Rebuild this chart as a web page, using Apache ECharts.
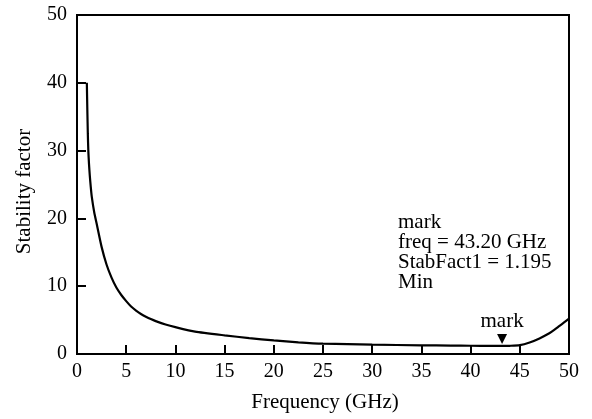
<!DOCTYPE html>
<html>
<head>
<meta charset="utf-8">
<script src="https://cdn.jsdelivr.net/npm/echarts@6/dist/echarts.min.js"></script>
<style>
  html, body { margin: 0; padding: 0; background: #fff; }
  #main { width: 592px; height: 419px; }
</style>
</head>
<body>
<div id="main"></div>
<script>
// frequency (GHz) and stability factor
var freq = [1.0, 1.05, 1.1, 1.15, 1.22, 1.3, 1.4, 1.5, 1.75, 2.0, 2.5, 3.0, 3.5, 4.0, 4.5, 5.0,
            5.5, 6, 6.5, 7, 7.5, 8, 9, 10, 12, 15, 17.5, 20, 22.5, 25, 30, 35, 38, 40,
            42, 43.2, 44, 45, 46, 47, 48, 48.5, 49, 49.5, 50];
var stab = [40, 36, 32.5, 30, 28, 26.3, 24.6, 23.2, 20.9, 19.2, 15.8, 13.2, 11.3, 9.8, 8.7, 7.8,
            7.0, 6.4, 5.9, 5.5, 5.15, 4.85, 4.35, 3.96, 3.3, 2.75, 2.35, 2.0, 1.72, 1.52, 1.38, 1.28, 1.24, 1.22,
            1.2, 1.195, 1.21, 1.3, 1.7, 2.3, 3.05, 3.55, 4.1, 4.65, 5.2];
var markFreq = 43.2;
var markVal = 1.195;
var noteLines = ['mark', 'freq = 43.20 GHz', 'StabFact1 = 1.195', 'Min'];

var font = '"Liberation Serif", "Times New Roman", serif';
var myChart = echarts.init(document.getElementById('main'));

var option = {
    animation: false,
    grid: {
        left: 77, right: 23, top: 15, bottom: 65,
        show: true, borderColor: '#000', borderWidth: 2, backgroundColor: 'transparent'
    },
    xAxis: {
        type: 'value', min: 0, max: 50, interval: 5,
        name: 'Frequency (GHz)', nameLocation: 'middle', nameGap: 38,
        nameTextStyle: { color: '#000', fontFamily: font, fontSize: 21, padding: [0, 0, 0, 4] },
        axisLine: { lineStyle: { color: '#000', width: 2 } },
        axisTick: { inside: true, length: 9, lineStyle: { color: '#000', width: 2 } },
        axisLabel: { color: '#000', fontFamily: font, fontSize: 20, margin: 8 },
        splitLine: { show: false }
    },
    yAxis: {
        type: 'value', min: 0, max: 50, interval: 10,
        name: 'Stability factor', nameLocation: 'middle', nameGap: 42,
        nameTextStyle: { color: '#000', fontFamily: font, fontSize: 21, padding: [0, 14, 0, 0] },
        axisLine: { lineStyle: { color: '#000', width: 2 } },
        axisTick: { inside: true, length: 9, lineStyle: { color: '#000', width: 2 } },
        axisLabel: { color: '#000', fontFamily: font, fontSize: 20, margin: 10 },
        splitLine: { show: false }
    },
    graphic: [{
        type: 'text', left: 398, top: 212,
        style: {
            text: noteLines.join('\n'),
            font: '21px ' + font,
            lineHeight: 20,
            fill: '#000'
        }
    }],
    series: [{
        type: 'line',
        data: freq.map(function (f, i) { return [f, stab[i]]; }),
        showSymbol: false,
        smooth: 0.2,
        lineStyle: { color: '#000', width: 2.2 },
        markPoint: {
            symbol: 'triangle',
            symbolRotate: 180,
            symbolSize: [10, 10],
            symbolOffset: [0, -7],
            itemStyle: { color: '#000' },
            label: {
                show: true, position: 'top', distance: 2,
                formatter: 'mark', color: '#000', fontFamily: font, fontSize: 21
            },
            data: [{ coord: [markFreq, markVal] }]
        }
    }]
};
myChart.setOption(option);
</script>
</body>
</html>
